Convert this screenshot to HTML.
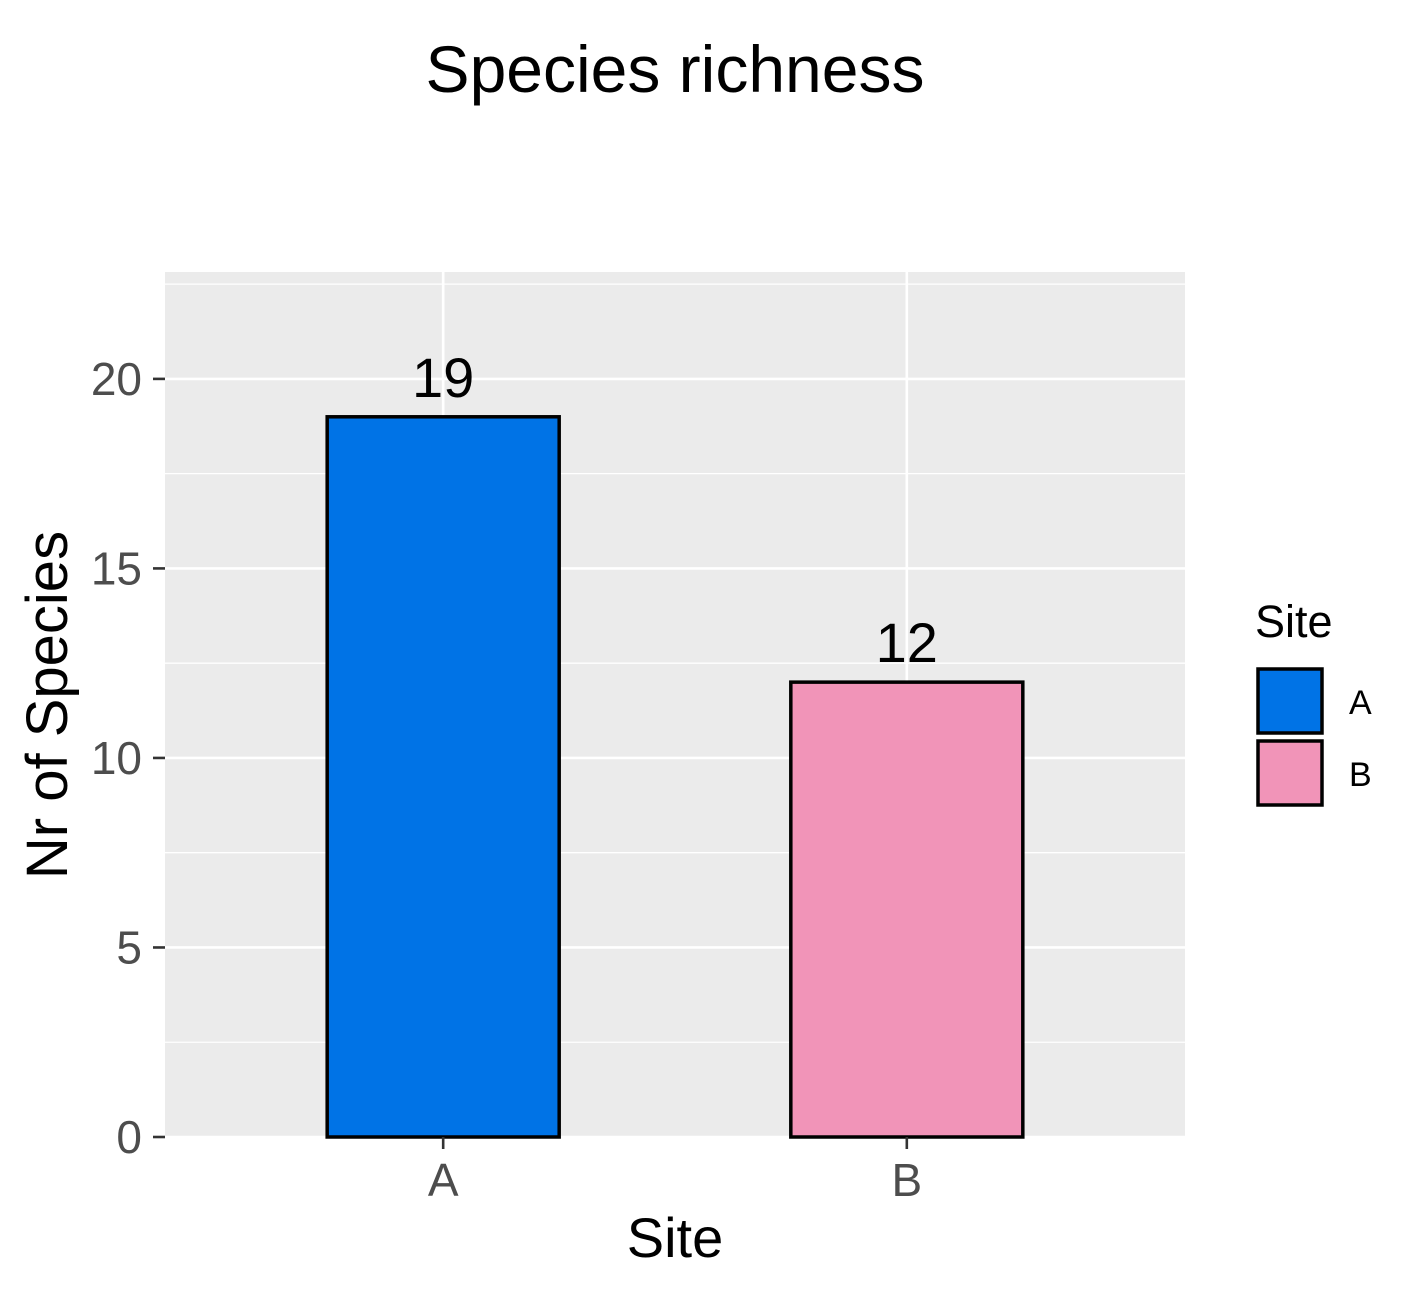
<!DOCTYPE html>
<html><head><meta charset="utf-8"><style>
body{margin:0;background:#fff;}
svg{display:block;font-family:"Liberation Sans",Arial,sans-serif;}
</style></head><body>
<svg id="chart" width="1419" height="1293" viewBox="0 0 1419 1293">
<text x="675" y="92" font-size="66" text-anchor="middle">Species richness</text>
<rect x="165" y="272" width="1020" height="865" fill="#ebebeb"/>
<g id="grid"></g>
<g id="bars"></g>
<g id="axes"></g>
<text x="675" y="1257" font-size="56" text-anchor="middle">Site</text>
<text transform="translate(67,705) rotate(-90)" font-size="58" text-anchor="middle">Nr of Species</text>
<g>
<text x="1255" y="637" font-size="45">Site</text>
<g id="legend"></g>
</g>
</svg>
<script>
const categories=["A","B"];
const values=[19,12];
const colors=["#0073e6","#f194b8"];
const yTicks=[0,5,10,15,20];
const yMinor=[2.5,7.5,12.5,17.5,22.5];
const NS="http://www.w3.org/2000/svg";
const L=165,R=1185,T=272,B=1137;
const yMax=22.82;
function y(v){return B-(v/yMax)*(B-T);}
function x(i){return L+(i+1-0.4)/2.2*(R-L);}
function mk(tag,attrs,parent){const e=document.createElementNS(NS,tag);for(const k in attrs)e.setAttribute(k,attrs[k]);parent.appendChild(e);return e;}
const grid=document.getElementById('grid'),bars=document.getElementById('bars'),axes=document.getElementById('axes'),legend=document.getElementById('legend');
yMinor.forEach(v=>{const l=mk('line',{x1:L,x2:R,y1:y(v),y2:y(v),stroke:'#fff','stroke-width':1.3},grid);

});
yTicks.forEach(v=>{const l=mk('line',{x1:L,x2:R,y1:y(v),y2:y(v),stroke:'#fff','stroke-width':2.6},grid);


const t=mk('line',{x1:153,x2:165,y1:y(v),y2:y(v),stroke:'#333','stroke-width':2.6},axes);


const tx=mk('text',{x:142,y:y(v)+16,'font-size':46,fill:'#4d4d4d','text-anchor':'end'},axes);tx.textContent=v;

});
categories.forEach((c,i)=>{const cx=x(i);
const g=mk('line',{x1:cx,x2:cx,y1:T,y2:B,stroke:'#fff','stroke-width':2.6},grid);


const w=232;
const r=mk('rect',{x:cx-w/2,y:y(values[i]),width:w,height:B-y(values[i]),fill:colors[i],stroke:'#000','stroke-width':3.5},bars);


const lb=mk('text',{x:cx,y:y(values[i])-20,'font-size':56,'text-anchor':'middle'},bars);lb.textContent=values[i];


const t=mk('line',{x1:cx,x2:cx,y1:B,y2:B+12,stroke:'#333','stroke-width':2.6},axes);


const tx=mk('text',{x:cx,y:1196,'font-size':46,fill:'#4d4d4d','text-anchor':'middle'},axes);tx.textContent=c;


const k=mk('rect',{x:1258,y:669+i*72,width:64,height:64,fill:colors[i],stroke:'#000','stroke-width':3.5},legend);


const kt=mk('text',{x:1349,y:714+i*72,'font-size':34},legend);kt.textContent=c;

});
</script>
</body></html>
